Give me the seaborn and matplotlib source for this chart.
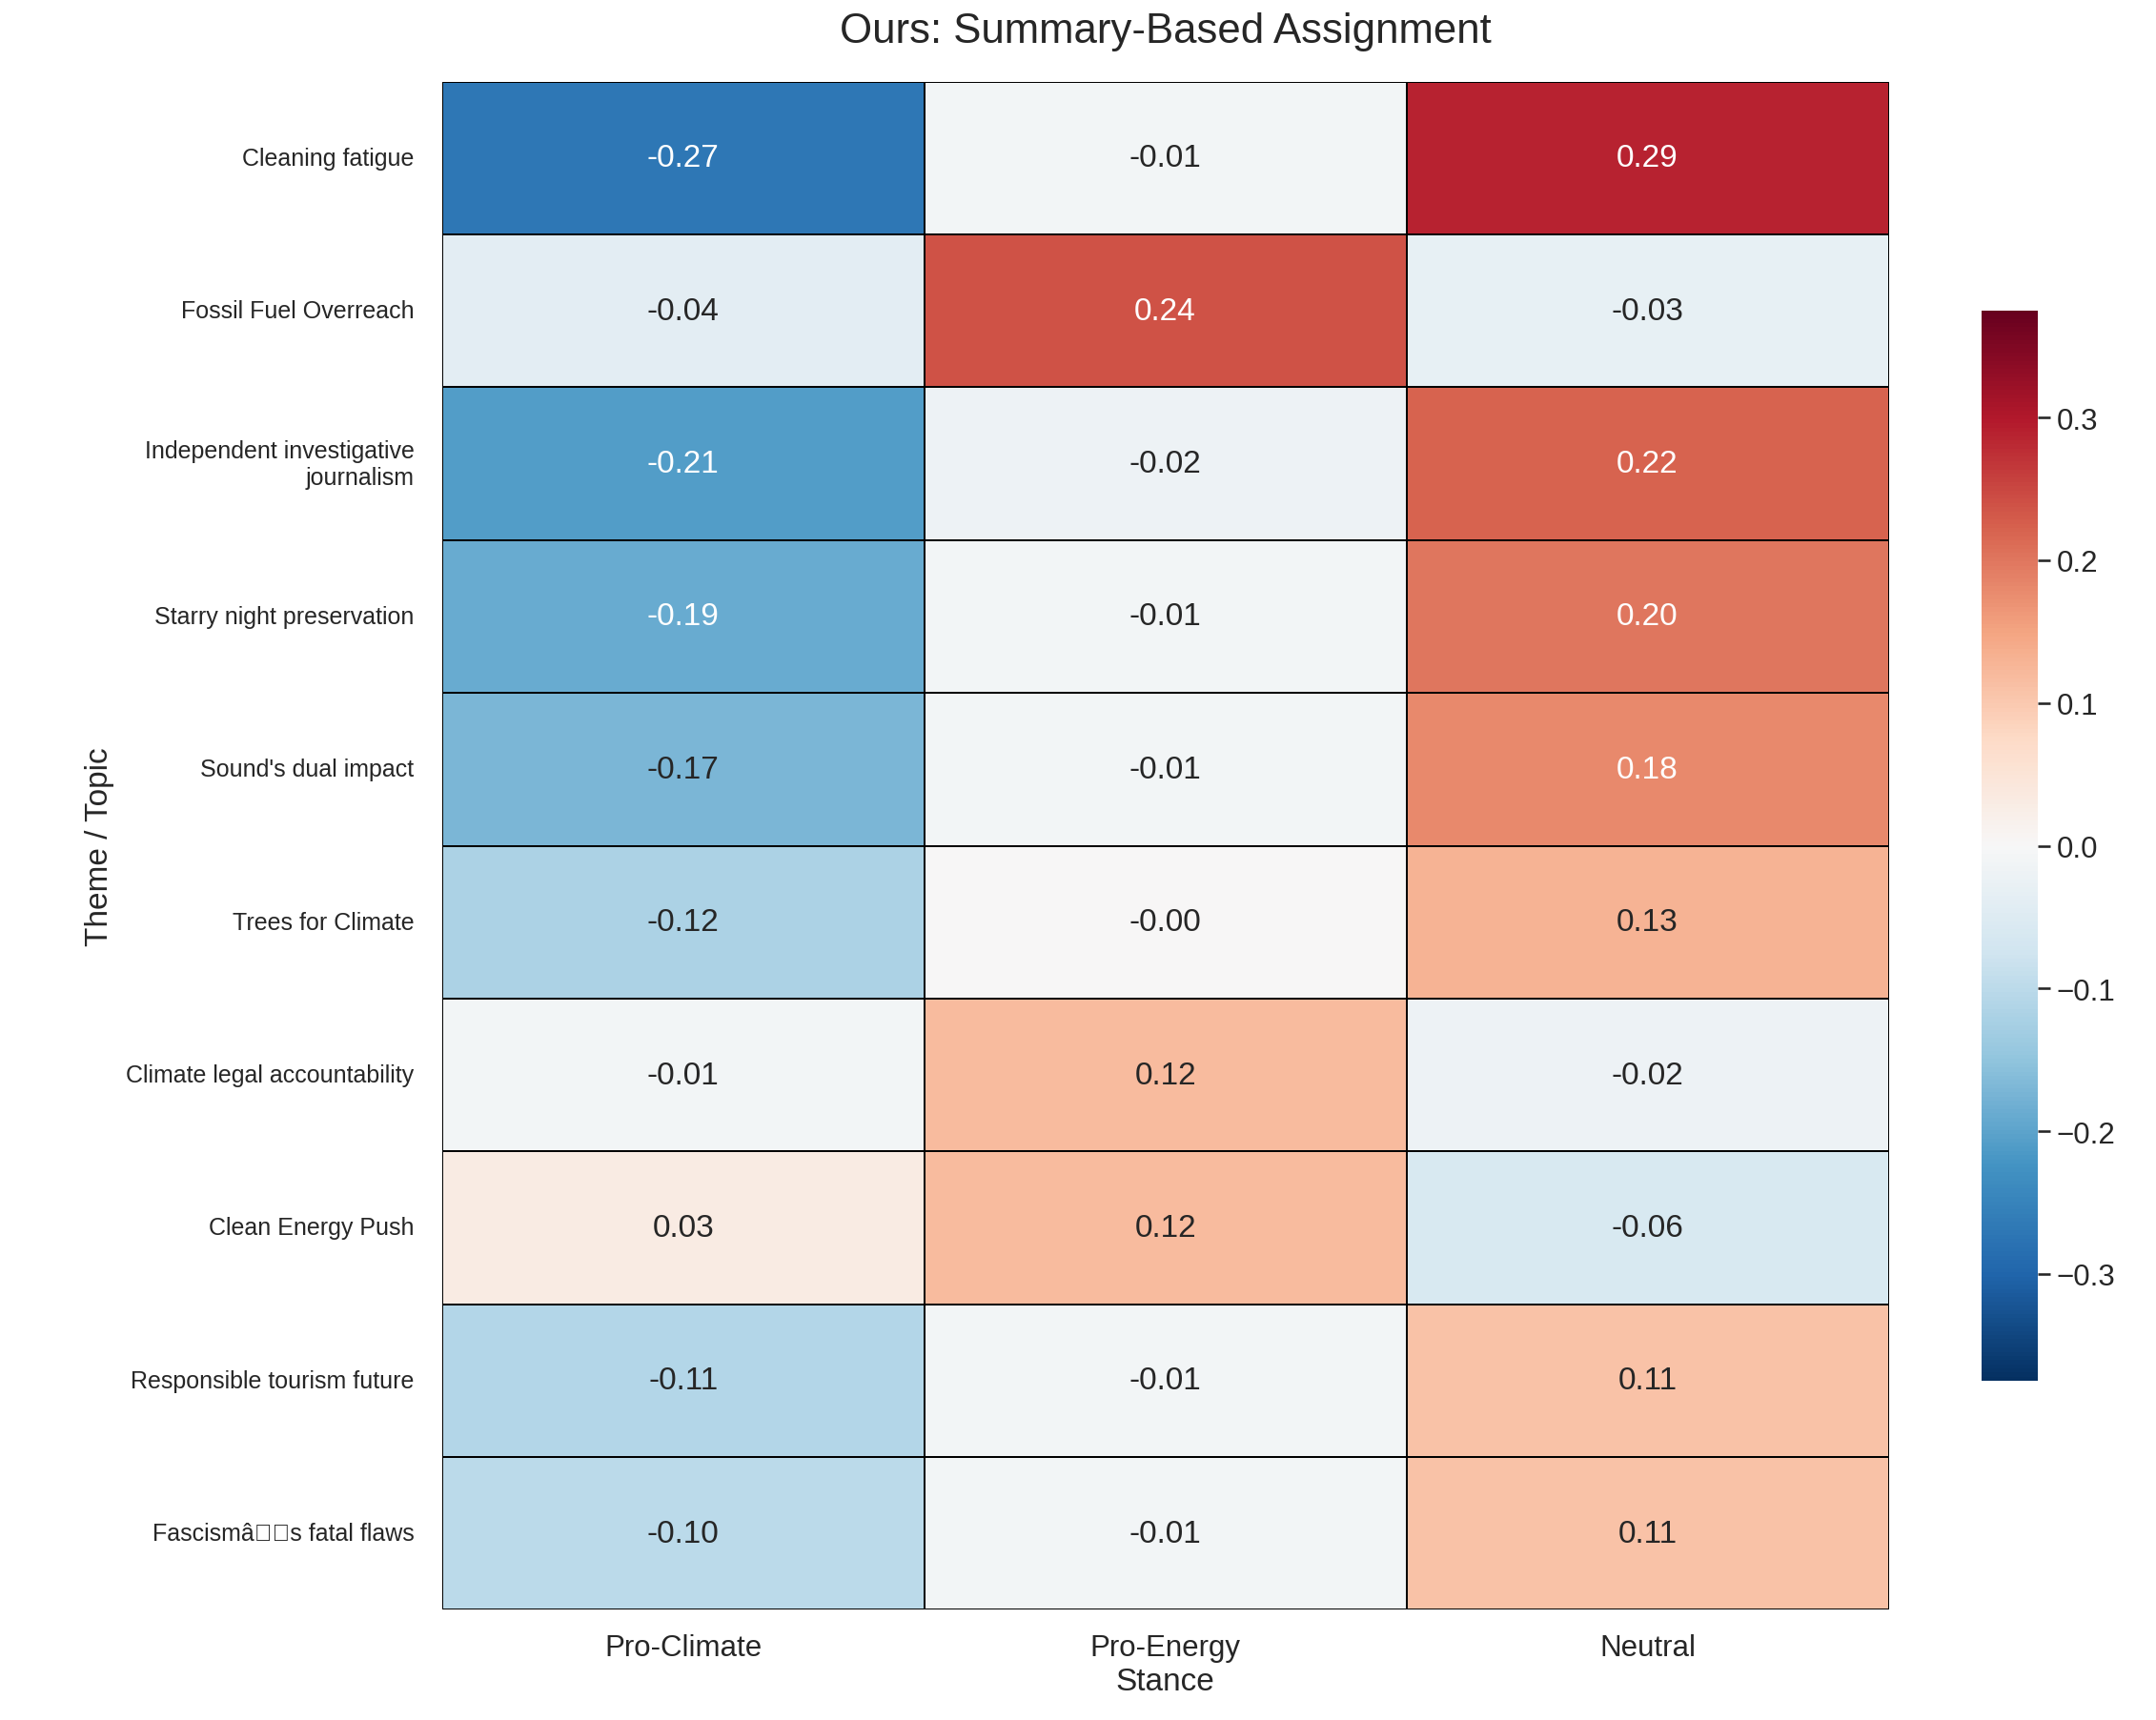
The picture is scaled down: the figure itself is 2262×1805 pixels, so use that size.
import pandas as pd
import numpy as np
import seaborn as sns
import matplotlib
matplotlib.use("Agg")
import matplotlib.pyplot as plt

# data
topics = ["Cleaning fatigue", "Fossil Fuel Overreach",
          "Independent investigative\njournalism", "Starry night preservation",
          "Sound's dual impact", "Trees for Climate", "Climate legal accountability",
          "Clean Energy Push", "Responsible tourism future",
          "Fascism\u00e2\u0080\u0099s fatal flaws"]
stances = ["Pro-Climate", "Pro-Energy", "Neutral"]
pro_climate = [-0.27, -0.04, -0.21, -0.19, -0.17, -0.12, -0.01, 0.03, -0.11, -0.10]
pro_energy = [-0.01, 0.24, -0.02, -0.01, -0.01, -0.0, 0.12, 0.12, -0.01, -0.01]
neutral = [0.29, -0.03, 0.22, 0.20, 0.18, 0.13, -0.02, -0.06, 0.11, 0.11]

data = pd.DataFrame({"Pro-Climate": pro_climate, "Pro-Energy": pro_energy,
                     "Neutral": neutral}, index=topics)[stances]

sns.set_theme(style="white")
plt.rcParams['font.family'] = ['Liberation Sans', 'DejaVu Sans']

fig = plt.figure(figsize=(15.08, 12.04), dpi=150)
ax = fig.add_axes([0.205, 0.064, 0.671, 0.888])
cax = fig.add_axes([0.919, 0.197, 0.026, 0.622])

sns.heatmap(data, ax=ax, cbar_ax=cax, cmap="RdBu_r", center=0, vmin=-0.375, vmax=0.375,
            annot=True, fmt=".2f", annot_kws={"size": 16},
            linewidths=0.8, linecolor="black")

ax.set_title("Ours: Summary-Based Assignment", fontsize=21, pad=20)
ax.set_xlabel("Stance", fontsize=16, labelpad=2)
ax.set_ylabel("Theme / Topic", fontsize=16, labelpad=6)
ax.tick_params(axis="x", labelsize=15, rotation=0, length=0, pad=12)
ax.tick_params(axis="y", labelsize=12, rotation=0, length=0, pad=14)
cax.tick_params(labelsize=15)

fig.savefig("out.png", dpi=150)
